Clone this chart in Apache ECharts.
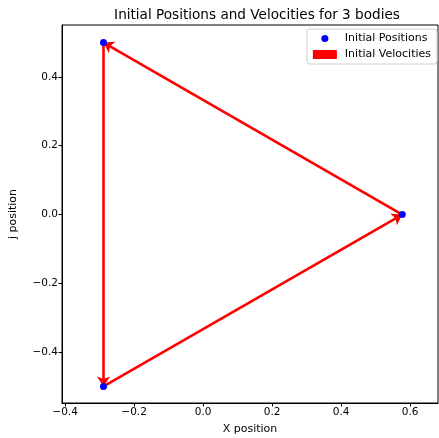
<!DOCTYPE html>
<html>
<head>
<meta charset="utf-8">
<script src="https://cdn.jsdelivr.net/npm/echarts@6/dist/echarts.min.js"></script>
<style>
  html, body { margin: 0; padding: 0; background: #fff; }
  #chart { width: 439px; height: 438px; }
</style>
</head>
<body>
<div id="chart"></div>
<script>
// body positions
const posX = [-0.2887, 0.5774, -0.2887];
const posY = [0.5, 0.0, -0.5];
// initial velocities (drawn as arrows in data units)
const velX = [0.0, -0.866, 0.866];
const velY = [-1.0, 0.5, 0.5];
const xTicks = [-0.4, -0.2, 0.0, 0.2, 0.4, 0.6];
const yTicks = [-0.4, -0.2, 0.0, 0.2, 0.4];

const font = 'DejaVu Sans';

const points = posX.map((x, i) => [x, posY[i]]);
const arrows = posX.map((x, i) => ({
  coords: [[x, posY[i]], [x + velX[i], posY[i] + velY[i]]]
}));

const fmt = v => v.toFixed(1).replace('-', '\u2212');

const chart = echarts.init(document.getElementById('chart'));
chart.setOption({
  animation: false,
  backgroundColor: '#fff',
  title: {
    text: 'Initial Positions and Velocities for 3 bodies',
    left: 252, top: 3, textAlign: 'center',
    textStyle: { fontFamily: font, fontSize: 13.6, fontWeight: 'normal', color: '#000' }
  },
  legend: {
    orient: 'vertical',
    right: 2, top: 29,
    itemWidth: 22, itemHeight: 7, itemGap: 5,
    padding: [4, 6, 4, 6],
    borderColor: '#d0d0d0', borderWidth: 1, borderRadius: 3,
    backgroundColor: 'rgba(255,255,255,0.8)',
    textStyle: { fontFamily: font, fontSize: 11, color: '#000', padding: [0, 0, 0, 4] },
    data: [
      { name: 'Initial Positions', icon: 'path://M4,0A4,4 0 1,1 4,8A4,4 0 1,1 4,0Z M-7,4 L-7,4 M15,4 L15,4' },
      { name: 'Initial Velocities', icon: 'rect' }
    ]
  },
  grid: {
    left: 62, right: 1, top: 25, bottom: 35,
    outerBoundsMode: 'none', containLabel: false,
    show: true, borderColor: '#000', borderWidth: 1, backgroundColor: 'transparent'
  },
  xAxis: {
    type: 'value', min: -0.409, max: 0.681,
    name: 'X position', nameLocation: 'middle', nameGap: 21,
    nameTextStyle: { fontFamily: font, fontSize: 11, color: '#000' },
    axisLine: { show: true, onZero: false, lineStyle: { color: '#000' } },
    axisTick: { show: true, length: 3.5, lineStyle: { color: '#000' }, customValues: xTicks },
    axisLabel: { fontFamily: font, fontSize: 10.5, color: '#000', margin: 4, customValues: xTicks, formatter: fmt },
    splitLine: { show: false }
  },
  yAxis: {
    type: 'value', min: -0.548, max: 0.551,
    name: 'j position', nameLocation: 'middle', nameGap: 43,
    nameTextStyle: { fontFamily: font, fontSize: 11, color: '#000' },
    axisLine: { show: true, onZero: false, lineStyle: { color: '#000' } },
    axisTick: { show: true, length: 3.5, lineStyle: { color: '#000' }, customValues: yTicks },
    axisLabel: { fontFamily: font, fontSize: 10.5, color: '#000', margin: 4, customValues: yTicks, formatter: fmt },
    splitLine: { show: false }
  },
  series: [
    {
      name: 'Initial Velocities',
      type: 'lines',
      coordinateSystem: 'cartesian2d',
      z: 2,
      symbol: ['none', 'arrow'],
      symbolSize: [7, 10],
      lineStyle: { color: '#ff0000', width: 2.6, opacity: 1 },
      itemStyle: { color: '#ff0000' },
      data: arrows
    },
    {
      name: 'Initial Positions',
      type: 'scatter',
      z: 3,
      symbolSize: 7,
      itemStyle: { color: '#0000ff', opacity: 1 },
      data: points
    }
  ]
});
</script>
</body>
</html>
